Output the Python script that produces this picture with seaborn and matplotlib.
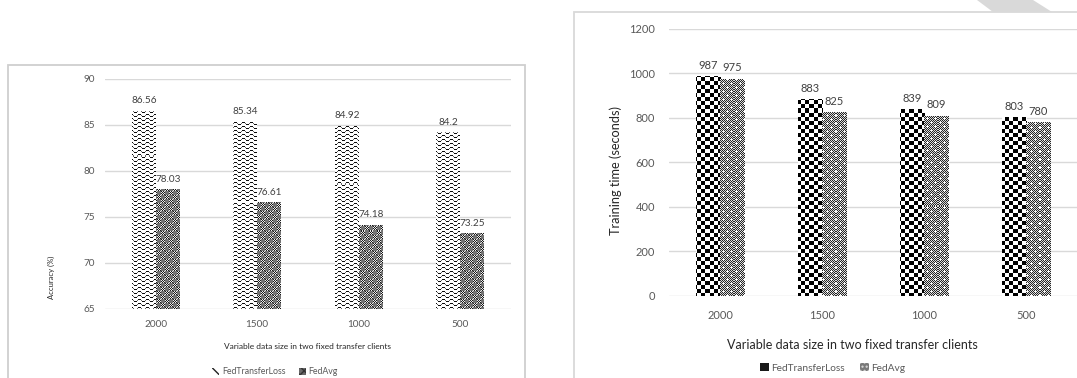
import numpy as np
import pandas as pd
import matplotlib
matplotlib.use("Agg")
import matplotlib.pyplot as plt
from matplotlib.patches import Rectangle, Polygon, Patch
import seaborn as sns

# ---- data -------------------------------------------------------------
sizes = ["2000", "1500", "1000", "500"]
methods = ["FedTransferLoss", "FedAvg"]
acc_ftl = [86.56, 85.34, 84.92, 84.2]
acc_avg = [78.03, 76.61, 74.18, 73.25]
time_ftl = [987, 883, 839, 803]
time_avg = [975, 825, 809, 780]
acc_ticks = [65, 70, 75, 80, 85, 90]
time_ticks = [0, 200, 400, 600, 800, 1000, 1200]

acc_df = pd.DataFrame({
    "size": sizes * 2,
    "method": [methods[0]] * 4 + [methods[1]] * 4,
    "value": acc_ftl + acc_avg,
})
time_df = pd.DataFrame({
    "size": sizes * 2,
    "method": [methods[0]] * 4 + [methods[1]] * 4,
    "value": time_ftl + time_avg,
})

sns.set_style("white")
plt.rcParams["font.family"] = ["Lato", "DejaVu Sans"]

W, H = 1077, 378
fig = plt.figure(figsize=(W / 100, H / 100), dpi=100)
fig.patch.set_facecolor("white")


def px_axes(x0, x1, ytop, ybot):
    return fig.add_axes([x0 / W, (H - ybot) / H, (x1 - x0) / W, (ybot - ytop) / H])


# ---- fill textures (gray levels, 1 = white) ---------------------------
def wave_tile():
    t = np.ones((4, 8))
    ys = [1, 0, 0, 0, 1, 2, 2, 2]
    for x, y in enumerate(ys):
        t[y, x] = 0.05
    t[1, 0] = t[1, 4] = 0.4
    return t


def dark_check_tile():
    t = np.full((8, 8), 0.45)
    for y in range(8):
        for x in range(8):
            if (y < 4) == (x < 4):
                t[y, x] = 0.1 if (x + y) % 2 == 0 else 0.92
    return t


def big_check_tile():
    t = np.ones((8, 8))
    for y in range(8):
        for x in range(8):
            if (y // 4 + x // 4) % 2 == 0:
                t[y, x] = 0.0
    return t


def confetti_tile():
    t = np.zeros((8, 8))
    for y in range(8):
        for x in range(8):
            t[y, x] = 0.15 if (x + y) % 2 == 0 else 0.85
    for (y, x) in [(2, 1), (1, 2), (2, 2), (3, 2), (2, 3)]:
        t[y, x] = 1.0
    for (y, x) in [(6, 5), (5, 6), (6, 6), (7, 6), (6, 7)]:
        t[y, x] = 0.95
    return t


def texture_bars(ax, container, tile):
    bb = ax.get_window_extent()
    pw, ph = int(round(bb.width)), int(round(bb.height))
    th, tw = tile.shape
    img = np.tile(tile, (ph // th + 1, pw // tw + 1))[:ph, :pw]
    xl, yl = ax.get_xlim(), ax.get_ylim()
    for bar in container:
        bar.set_facecolor("white")
        bar.set_edgecolor("none")
        im = ax.imshow(img, cmap="gray", vmin=0, vmax=1, origin="upper",
                       extent=(xl[0], xl[1], yl[0], yl[1]), aspect="auto",
                       interpolation="nearest", zorder=bar.get_zorder() + 0.1)
        im.set_clip_path(bar)
    ax.set_xlim(xl)
    ax.set_ylim(yl)


def style_axes(ax, ticks, lim, tick_fs):
    ax.set_ylim(*lim)
    ax.set_yticks(ticks)
    ax.set_axisbelow(True)
    ax.grid(axis="y", color="#d9d9d9", linewidth=1.0)
    ax.grid(axis="x", visible=False)
    for s in ax.spines.values():
        s.set_visible(False)
    ax.tick_params(axis="both", length=0, labelsize=tick_fs, colors="#595959")
    ax.set_xlim(-0.5, 3.5)


# ---- chart frames and page decoration ---------------------------------
def frame(x0, y0, x1, y1, color):
    fig.patches.append(Rectangle((x0 / W, (H - y1) / H), (x1 - x0) / W, (y1 - y0) / H,
                                 transform=fig.transFigure, fill=False,
                                 edgecolor=color, linewidth=1.3, zorder=0))

frame(8, 65, 525, 400, "#cfcfcf")
frame(574, 12, 1100, 400, "#d9d9d9")
fig.patches.append(Polygon([(977 / W, 1), (1033 / W, 1), (1052 / W, (H - 12) / H), (993 / W, (H - 12) / H)],
                           closed=True, transform=fig.transFigure, facecolor="#d9d9d9",
                           edgecolor="none", zorder=0))

# ---- left: accuracy ---------------------------------------------------
ax1 = px_axes(105, 511, 79, 309)
sns.barplot(data=acc_df, x="size", y="value", hue="method", order=sizes,
            hue_order=methods, width=0.472, gap=0, ax=ax1, legend=False,
            palette=["white", "white"], saturation=1, errorbar=None)
style_axes(ax1, acc_ticks, (65, 90), 7.2)
ax1.tick_params(axis="y", pad=7)
ax1.tick_params(axis="x", pad=8)
texture_bars(ax1, ax1.containers[0], wave_tile())
texture_bars(ax1, ax1.containers[1], dark_check_tile())
for c in ax1.containers:
    ax1.bar_label(c, fmt="%g", padding=4, fontsize=7.2, color="#404040")
ax1.set_xlabel("Variable data size in two fixed transfer clients", fontsize=6, color="#262626")
ax1.set_ylabel("Accuracy (%)", fontsize=5.5, color="#262626")
ax1.xaxis.set_label_coords(0.5, -0.148)
ax1.yaxis.set_label_coords(-0.123, 0.139)
h1 = [Patch(facecolor="white", edgecolor="#222222", hatch="\\\\\\", linewidth=0),
      Patch(facecolor="#6a6a6a", edgecolor="#333333", hatch="xxxx", linewidth=0)]
fig.legend(h1, methods, loc="center", bbox_to_anchor=(275 / W, (H - 372) / H),
           bbox_transform=fig.transFigure, ncol=2, frameon=False, fontsize=6.3,
           labelcolor="#595959", handlelength=0.8, handleheight=0.8,
           handletextpad=0.3, columnspacing=1.5)

# ---- right: training time --------------------------------------------
ax2 = px_axes(669, 1077, 28.8, 295.8)
sns.barplot(data=time_df, x="size", y="value", hue="method", order=sizes,
            hue_order=methods, width=0.472, gap=0, ax=ax2, legend=False,
            palette=["white", "white"], saturation=1, errorbar=None)
style_axes(ax2, time_ticks, (0, 1200), 8)
ax2.tick_params(axis="y", pad=10)
ax2.tick_params(axis="x", pad=10)
texture_bars(ax2, ax2.containers[0], big_check_tile())
texture_bars(ax2, ax2.containers[1], confetti_tile())
for c in ax2.containers:
    ax2.bar_label(c, fmt="%g", padding=4, fontsize=8, color="#404040")
ax2.set_xlabel("Variable data size in two fixed transfer clients", fontsize=9, color="#262626")
ax2.set_ylabel("Training time (seconds)", fontsize=9.2, color="#262626")
ax2.xaxis.set_label_coords(0.449, -0.162)
ax2.yaxis.set_label_coords(-0.115, 0.471)
h2 = [Patch(facecolor="#1a1a1a", edgecolor="white", hatch="", linewidth=0),
      Patch(facecolor="#7a7a7a", edgecolor="#dddddd", hatch="....", linewidth=0)]
fig.legend(h2, methods, loc="center", bbox_to_anchor=(833 / W, (H - 368) / H),
           bbox_transform=fig.transFigure, ncol=2, frameon=False, fontsize=7.3,
           labelcolor="#595959", handlelength=0.8, handleheight=0.8,
           handletextpad=0.3, columnspacing=1.5)

fig.savefig("out.png", dpi=100)
